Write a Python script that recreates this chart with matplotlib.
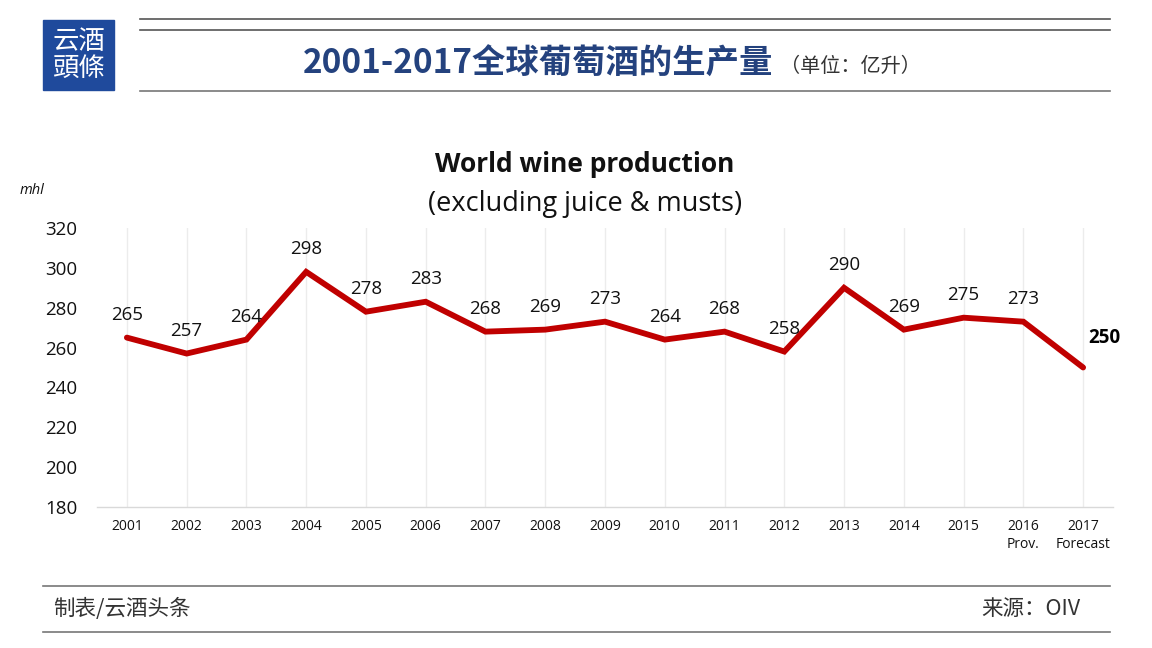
import matplotlib.pyplot as plt
from matplotlib.patches import Rectangle

# World wine production, mhl
years = [2001, 2002, 2003, 2004, 2005, 2006, 2007, 2008, 2009,
         2010, 2011, 2012, 2013, 2014, 2015, 2016, 2017]
year_labels = ["2001", "2002", "2003", "2004", "2005", "2006", "2007", "2008", "2009",
               "2010", "2011", "2012", "2013", "2014", "2015", "2016\nProv.", "2017\nForecast"]
production = [265, 257, 264, 298, 278, 283, 268, 269, 273,
              264, 268, 258, 290, 269, 275, 273, 250]
y_ticks = [180, 200, 220, 240, 260, 280, 300, 320]

cjk = ["Noto Sans CJK SC", "DejaVu Sans"]
latin = ["Open Sans", "DejaVu Sans"]

fig = plt.figure(figsize=(11.52, 6.48), dpi=100)
W, H = 1152, 648

def fx(px):
    return px / W

def fy(py):
    return 1 - py / H

# header: logo block
fig.patches.append(Rectangle((fx(43), fy(90)), fx(114) - fx(43), fy(20) - fy(90),
                             transform=fig.transFigure, color="#1f4a9c", zorder=1))
fig.text(fx(78.5), fy(55), "云酒\n頭條", color="white", fontsize=19, family=["Noto Sans CJK TC", "DejaVu Sans"],
         ha="center", va="center", linespacing=1.0)

# header rules
for y, c in [(19, "#555555"), (30, "#555555"), (91, "#777777")]:
    fig.add_artist(plt.Line2D([fx(140), fx(1110)], [fy(y), fy(y)], transform=fig.transFigure,
                              color=c, lw=1.2))

fig.text(fx(303), fy(64), "2001-2017全球葡萄酒的生产量", fontsize=24, fontweight="bold",
         color="#24427e", family=cjk, ha="left", va="center")
fig.text(fx(780), fy(66), "（单位：亿升）", fontsize=14.5, color="#333333", family=cjk,
         ha="left", va="center")

# chart
ax = fig.add_axes([fx(97), fy(507), fx(1113) - fx(97), fy(228) - fy(507)])
ax.plot(years, production, color="#c00000", lw=4.2, solid_capstyle="round",
        solid_joinstyle="miter", zorder=3)
ax.set_xlim(2000.5, 2017.5)
ax.set_ylim(180, 320)
ax.set_yticks(y_ticks)
ax.set_yticklabels([str(v) for v in y_ticks], fontsize=13.5, family=latin, color="#111111")
ax.set_xticks(years)
ax.set_xticklabels(year_labels, fontsize=10, family=latin, color="#111111",
                   linespacing=1.2, va="top")
ax.tick_params(axis="both", length=0)
ax.tick_params(axis="y", pad=14)
ax.tick_params(axis="x", pad=9)
for s in ["top", "right", "left"]:
    ax.spines[s].set_visible(False)
ax.spines["bottom"].set_color("#d9d9d9")
ax.spines["bottom"].set_linewidth(1)
ax.grid(axis="x", color="#ececec", lw=1)
ax.set_axisbelow(True)

for i, (x, v) in enumerate(zip(years, production)):
    if i == len(years) - 1:
        ax.annotate(str(v), (x, v), xytext=(4, 21), textcoords="offset points",
                    ha="left", va="center", fontsize=13.5, fontweight="bold", family=latin)
    else:
        ax.annotate(str(v), (x, v), xytext=(0, 10), textcoords="offset points",
                    ha="center", va="bottom", fontsize=13.5, family=latin, color="#111111")

fig.text(fx(585), fy(165), "World wine production", fontsize=19, fontweight="bold",
         family=latin, ha="center", va="center", color="#111111")
fig.text(fx(585), fy(204), "(excluding juice & musts)", fontsize=19.5,
         family=latin, ha="center", va="center", color="#111111")
fig.text(fx(20), fy(190), "mhl", fontsize=10.5, style="italic", family=latin,
         ha="left", va="center", color="#111111")

# footer
for y in [586, 632]:
    fig.add_artist(plt.Line2D([fx(43), fx(1110)], [fy(y), fy(y)], transform=fig.transFigure,
                              color="#777777", lw=1.2))
fig.text(fx(53), fy(609), "制表/云酒头条", fontsize=15.5, color="#333333", family=cjk,
         ha="left", va="center")
fig.text(fx(1080), fy(609), "来源：OIV", fontsize=15.5, color="#333333", family=cjk,
         ha="right", va="center")

fig.savefig("out.png", dpi=100)
